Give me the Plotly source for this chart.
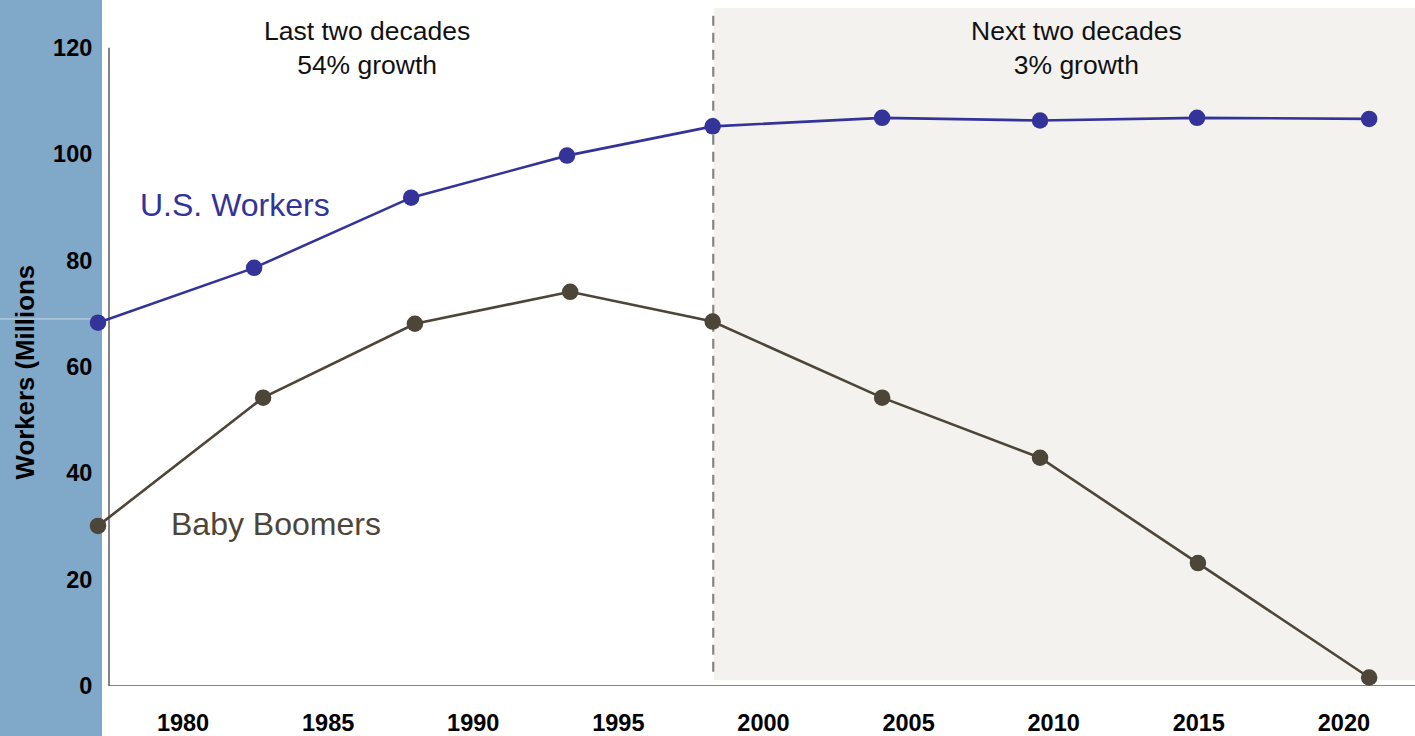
import plotly.graph_objects as go

# ---- data ----
years_us = [1977.07, 1982.45, 1987.86, 1993.23, 1998.25, 2004.09, 2009.53, 2014.94, 2020.87]
us_workers = [68.3, 78.6, 91.8, 99.7, 105.2, 106.8, 106.3, 106.8, 106.6]
years_bb = [1977.07, 1982.76, 1987.99, 1993.34, 1998.25, 2004.09, 2009.53, 2014.97, 2020.87]
baby_boomers = [30.1, 54.2, 68.1, 74.1, 68.5, 54.2, 42.9, 23.1, 1.6]
x_ticks = [1980, 1985, 1990, 1995, 2000, 2005, 2010, 2015, 2020]
y_ticks = [0, 20, 40, 60, 80, 100, 120]
split_year = 1998.27

FONT = "Liberation Sans, Arial, sans-serif"
US_COLOR = "#333399"
BB_COLOR = "#4d4538"
X_RANGE = [1976.45, 2022.45]
Y_RANGE = [0, 127.45]
L_MARGIN = 80
PLOT_W = 1415 - L_MARGIN
YAX_POS = (109 - L_MARGIN) / PLOT_W


def px_to_paper(px):
    return (px - L_MARGIN) / PLOT_W


fig = go.Figure()

fig.add_trace(go.Scatter(
    x=years_us, y=us_workers, mode="lines+markers",
    line=dict(color=US_COLOR, width=2.6),
    marker=dict(color=US_COLOR, size=16.5),
    cliponaxis=False, showlegend=False, hoverinfo="skip"))
fig.add_trace(go.Scatter(
    x=years_bb, y=baby_boomers, mode="lines+markers",
    line=dict(color=BB_COLOR, width=2.6),
    marker=dict(color=BB_COLOR, size=16.5),
    cliponaxis=False, showlegend=False, hoverinfo="skip"))

shapes = [
    # blue strip on the left
    dict(type="rect", xref="paper", yref="paper", x0=px_to_paper(-2), x1=px_to_paper(102),
         y0=-0.1, y1=1.05, fillcolor="#80a9c9", line=dict(width=0), layer="below"),
    dict(type="line", xref="paper", yref="y", x0=px_to_paper(-2), x1=px_to_paper(97),
         y0=69.0, y1=69.0, line=dict(color="rgba(255,255,255,0.55)", width=1), layer="below"),
    # white plot background (from the y axis to the right edge)
    dict(type="rect", xref="paper", yref="paper", x0=px_to_paper(104), x1=1,
         y0=0, y1=1, fillcolor="white", line=dict(width=0), layer="below"),
    # shaded forecast region
    dict(type="rect", xref="x", yref="y", x0=split_year + 0.03, x1=X_RANGE[1],
         y0=1.1, y1=Y_RANGE[1], fillcolor="#f3f2ee", line=dict(width=0), layer="below"),
    # dashed divider
    dict(type="line", xref="x", yref="y", x0=split_year, x1=split_year,
         y0=2.7, y1=127.3, line=dict(color="#858585", width=2.2, dash="10px,7px"), layer="below"),
    # y axis line (only up to 120)
    dict(type="line", xref="paper", yref="y", x0=YAX_POS, x1=YAX_POS, y0=0, y1=120,
         line=dict(color="#333333", width=1.2), layer="below"),
    # x axis line (starting at the y axis)
    dict(type="line", xref="paper", yref="y", x0=YAX_POS, x1=1, y0=0, y1=0,
         line=dict(color="#5a5a5a", width=1.5), layer="below"),
]

annotations = [
    dict(x=1986.34, y=120, xref="x", yref="y", text="Last two decades<br>54% growth",
         showarrow=False, xanchor="center", yanchor="middle",
         font=dict(family=FONT, size=26.5, color="#111111")),
    dict(x=2010.78, y=120, xref="x", yref="y", text="Next two decades<br>3% growth",
         showarrow=False, xanchor="center", yanchor="middle",
         font=dict(family=FONT, size=26.5, color="#111111")),
    dict(x=1978.45, y=90.5, xref="x", yref="y", text="U.S. Workers",
         showarrow=False, xanchor="left", yanchor="middle",
         font=dict(family=FONT, size=32, color=US_COLOR)),
    dict(x=1979.5, y=30.5, xref="x", yref="y", text="Baby Boomers",
         showarrow=False, xanchor="left", yanchor="middle",
         font=dict(family=FONT, size=32, color=BB_COLOR)),
    dict(x=px_to_paper(25), y=0.4624, xref="paper", yref="paper", text="Workers (Millions",
         showarrow=False, textangle=-90, xanchor="center", yanchor="middle",
         font=dict(family=FONT, size=25.8, color="#000000", weight="bold")),
]

fig.update_layout(
    width=1415, height=736, autosize=False,
    margin=dict(l=L_MARGIN, r=0, t=8, b=50, pad=0),
    paper_bgcolor="white", plot_bgcolor="rgba(0,0,0,0)",
    shapes=shapes, annotations=annotations,
    xaxis=dict(range=X_RANGE, tickvals=x_ticks, ticktext=[str(v) for v in x_ticks],
               showgrid=False, zeroline=False, showline=False, automargin=False,
               ticks="outside", ticklen=16, tickcolor="rgba(0,0,0,0)",
               tickfont=dict(family=FONT, size=23.5, color="#000000", weight="bold")),
    yaxis=dict(range=Y_RANGE, tickvals=y_ticks, ticktext=[str(v) for v in y_ticks],
               anchor="free", position=YAX_POS, automargin=False,
               showgrid=False, zeroline=False, showline=False,
               ticks="outside", ticklen=12, tickcolor="rgba(0,0,0,0)",
               tickfont=dict(family=FONT, size=23.5, color="#000000", weight="bold")),
)

fig.write_html("out.html", config={"displayModeBar": False})
